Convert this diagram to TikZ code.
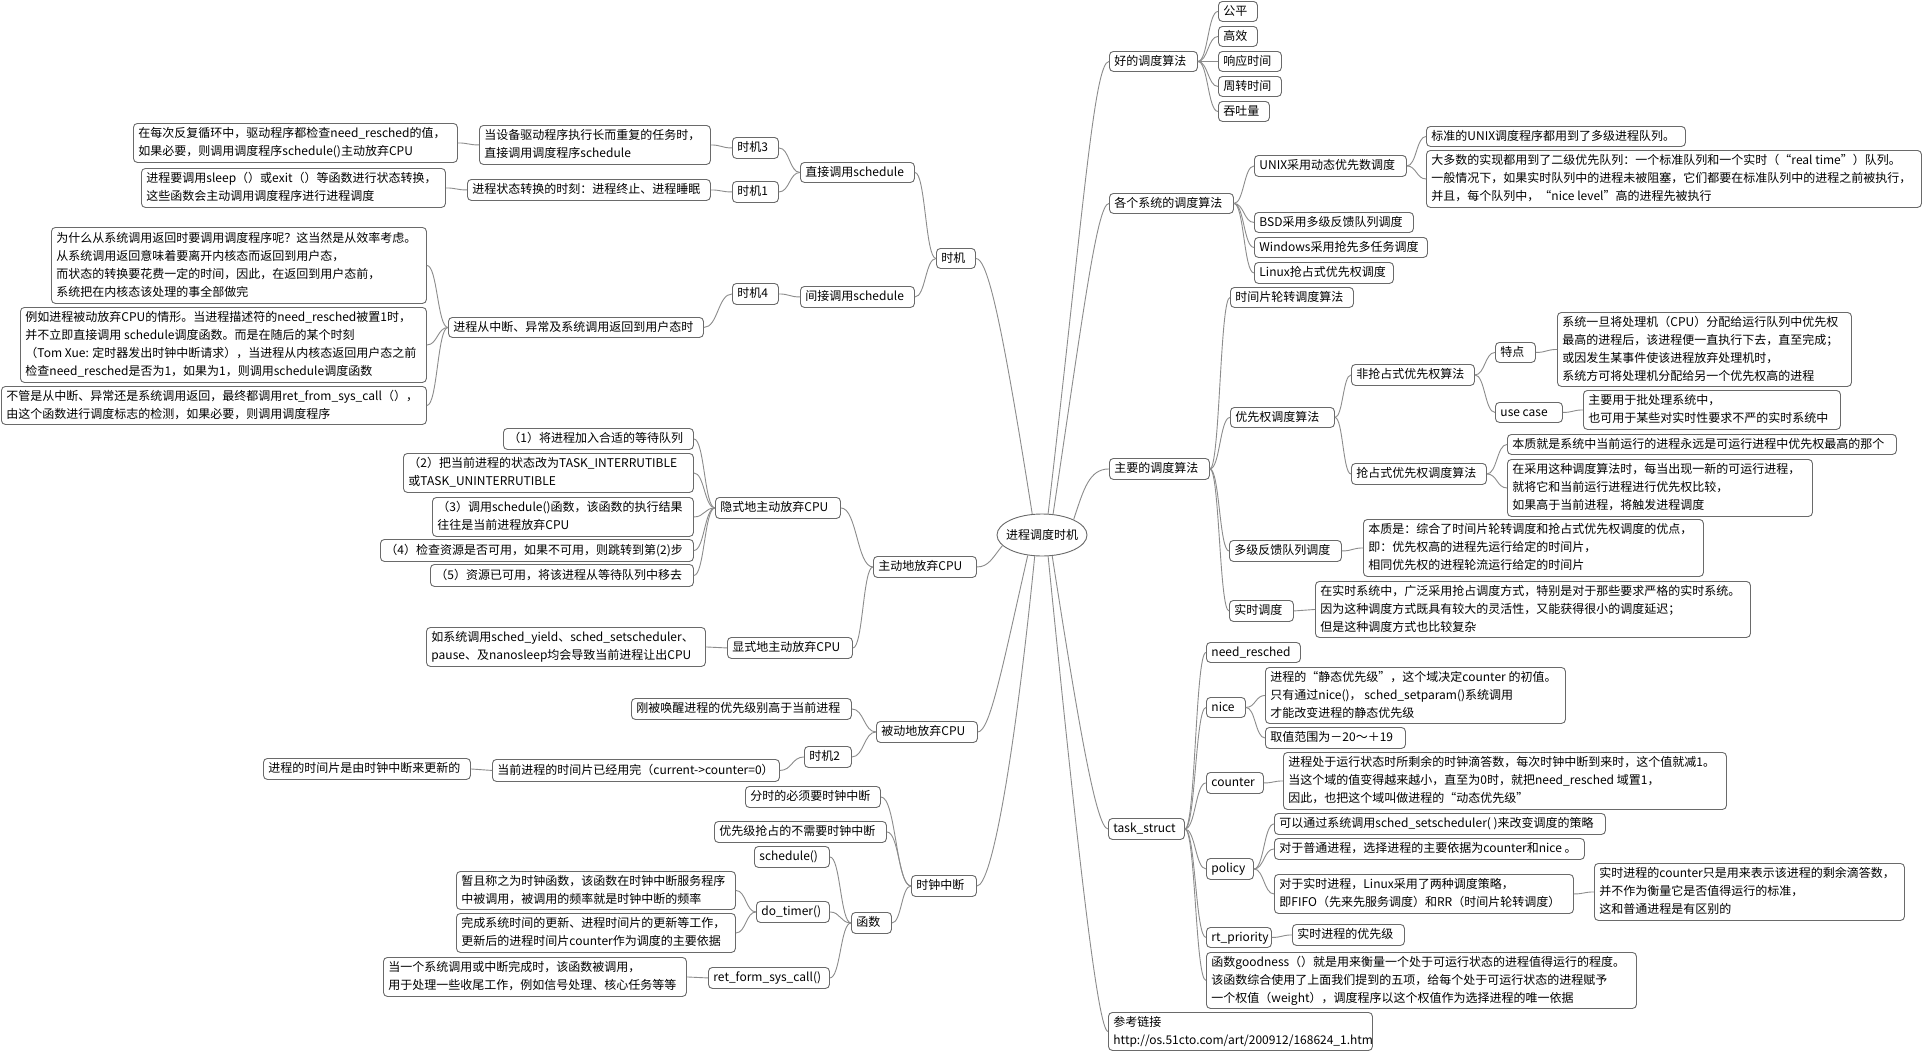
\documentclass[tikz,border=0pt]{standalone}
\usepackage{fontspec}
\setmainfont{Noto Sans CJK SC}
\usetikzlibrary{calc,shapes.geometric}
\definecolor{bordc}{HTML}{6A6A6A}
\definecolor{linec}{HTML}{8C8C8C}
\tikzset{
 box/.style={draw=bordc, line width=0.9pt, rounded corners=4pt, fill=white,
   inner xsep=5pt, inner ysep=1pt, font=\fontsize{12}{18}\selectfont, anchor=north west},
 rootnode/.style={draw=bordc, line width=0.9pt, ellipse, fill=white, inner sep=0pt,
   minimum width=90pt, minimum height=42pt, font=\fontsize{12}{18}\selectfont},
 conn/.style={draw=linec, line width=0.9pt},
 hc/.style={to path={let \p1=(\tikztostart), \p2=(\tikztotarget) in
   .. controls ({0.5*\x1+0.5*\x2},\y1) and ({0.5*\x1+0.5*\x2},\y2) .. (\tikztotarget)}},
}
\newcommand\MBox[6]{\pgfmathsetmacro\MBw{#4-#2-10}\pgfmathsetmacro\MBh{#5-#3}%
 \node[box, minimum width={#4pt-#2pt}, minimum height=\MBh pt] (#1) at (#2,#3)
   {\makebox[\MBw pt][l]{\begin{tabular}{@{}l@{}}#6\end{tabular}}};}
\begin{document}
\begin{tikzpicture}[x=1pt,y=-1pt]
\useasboundingbox (0,0) rectangle (1923,1052);
\fill[white] (0,0) rectangle (1923,1052);

\node[rootnode] (root) at (1042,535) {\makebox[0pt][c]{进程调度时机}};

% ---- left: 时机
\MBox{A}{133}{123}{457}{162}{在每次反复循环中，驱动程序都检查need\_resched的值，\\如果必要，则调用调度程序schedule()主动放弃CPU}
\MBox{B}{479}{125}{710}{164}{当设备驱动程序执行长而重复的任务时，\\直接调用调度程序schedule}
\MBox{t3}{732}{137}{778}{158}{时机3}
\MBox{direct}{800}{162}{914}{182}{直接调用schedule}
\MBox{C}{141}{168}{445}{207}{进程要调用sleep（）或exit（）等函数进行状态转换，\\这些函数会主动调用调度程序进行进程调度}
\MBox{D}{467}{179}{710}{200}{进程状态转换的时刻：进程终止、进程睡眠}
\MBox{t1}{732}{181}{778}{202}{时机1}
\MBox{shiji}{936}{248}{975}{268}{时机}
\MBox{E}{51}{227}{426}{303}{为什么从系统调用返回时要调用调度程序呢？这当然是从效率考虑。\\从系统调用返回意味着要离开内核态而返回到用户态，\\而状态的转换要花费一定的时间，因此，在返回到用户态前，\\系统把在内核态该处理的事全部做完}
\MBox{F}{20}{307}{426}{382}{例如进程被动放弃CPU的情形。当进程描述符的need\_resched被置1时，\\并不立即直接调用 schedule调度函数。而是在随后的某个时刻\\（Tom Xue: 定时器发出时钟中断请求），当进程从内核态返回用户态之前\\检查need\_resched是否为1，如果为1，则调用schedule调度函数}
\MBox{G}{1}{386}{426}{424}{不管是从中断、异常还是系统调用返回，最终都调用ret\_from\_sys\_call（），\\由这个函数进行调度标志的检测，如果必要，则调用调度程序}
\MBox{H}{448}{317}{703}{337}{进程从中断、异常及系统调用返回到用户态时}
\MBox{t4}{732}{283}{778}{304}{时机4}
\MBox{indirect}{800}{286}{914}{307}{间接调用schedule}

% ---- left: 主动地放弃CPU
\MBox{s1}{503}{428}{693}{449}{（1）将进程加入合适的等待队列}
\MBox{s2}{403}{453}{693}{492}{（2）把当前进程的状态改为TASK\_INTERRUTIBLE\\或TASK\_UNINTERRUTIBLE}
\MBox{s3}{432}{497}{693}{536}{（3）调用schedule()函数，该函数的执行结果\\往往是当前进程放弃CPU}
\MBox{s4}{380}{539}{693}{561}{（4）检查资源是否可用，如果不可用，则跳转到第(2)步}
\MBox{s5}{430}{564}{693}{586}{（5）资源已可用，将该进程从等待队列中移去}
\MBox{implicit}{715}{497}{840}{518}{隐式地主动放弃CPU}
\MBox{active}{873}{556}{976}{577}{主动地放弃CPU}
\MBox{X}{426}{627}{705}{666}{如系统调用sched\_yield、sched\_setscheduler、\\pause、及nanosleep均会导致当前进程让出CPU}
\MBox{explicit}{727}{637}{852}{658}{显式地主动放弃CPU}

% ---- left: 被动地放弃CPU
\MBox{woke}{631}{698}{851}{719}{刚被唤醒进程的优先级别高于当前进程}
\MBox{passive}{876}{721}{977}{742}{被动地放弃CPU}
\MBox{t2}{804}{746}{851}{767}{时机2}
\MBox{slice}{492}{759}{779}{781}{当前进程的时间片已经用完（current->counter=0）}
\MBox{upd}{263}{758}{470}{779}{进程的时间片是由时钟中断来更新的}

% ---- left: 时钟中断
\MBox{ts}{745}{786}{880}{807}{分时的必须要时钟中断}
\MBox{pri}{714}{821}{886}{842}{优先级抢占的不需要时钟中断}
\MBox{sched}{754}{846}{829}{867}{schedule()}
\MBox{clock}{911}{875}{976}{896}{时钟中断}
\MBox{func}{851}{912}{891}{933}{函数}
\MBox{dot}{756}{901}{829}{922}{do\_timer()}
\MBox{dt1}{456}{871}{735}{909}{暂且称之为时钟函数，该函数在时钟中断服务程序\\中被调用，被调用的频率就是时钟中断的频率}
\MBox{dt2}{456}{913}{735}{952}{完成系统时间的更新、进程时间片的更新等工作，\\更新后的进程时间片counter作为调度的主要依据}
\MBox{ret}{708}{967}{829}{988}{ret\_form\_sys\_call()}
\MBox{retd}{383}{957}{686}{996}{当一个系统调用或中断完成时，该函数被调用，\\用于处理一些收尾工作，例如信号处理、核心任务等等}

% ---- right: 好的调度算法
\MBox{good}{1109}{51}{1197}{71}{好的调度算法}
\MBox{gp}{1218}{1}{1257}{21}{公平}
\MBox{ge}{1218}{26}{1257}{46}{高效}
\MBox{gr}{1218}{51}{1281}{71}{响应时间}
\MBox{gz}{1218}{76}{1281}{96}{周转时间}
\MBox{gt}{1218}{101}{1269}{121}{吞吐量}

% ---- right: 各个系统的调度算法
\MBox{each}{1109}{193}{1233}{213}{各个系统的调度算法}
\MBox{unix}{1254}{155}{1406}{176}{UNIX采用动态优先数调度}
\MBox{u1}{1426}{126}{1685}{146}{标准的UNIX调度程序都用到了多级进程队列。}
\MBox{u2}{1426}{150}{1921}{207}{大多数的实现都用到了二级优先队列：一个标准队列和一个实时（“real time”）队列。\\一般情况下，如果实时队列中的进程未被阻塞，它们都要在标准队列中的进程之前被执行，\\并且，每个队列中，“nice level”高的进程先被执行}
\MBox{bsd}{1254}{212}{1413}{232}{BSD采用多级反馈队列调度}
\MBox{win}{1254}{237}{1427}{257}{Windows采用抢先多任务调度}
\MBox{linux}{1254}{262}{1393}{283}{Linux抢占式优先权调度}

% ---- right: 主要的调度算法
\MBox{main}{1109}{458}{1209}{479}{主要的调度算法}
\MBox{rr}{1230}{287}{1353}{307}{时间片轮转调度算法}
\MBox{prio}{1230}{407}{1334}{427}{优先权调度算法}
\MBox{np}{1351}{364}{1474}{385}{非抢占式优先权算法}
\MBox{tedian}{1495}{342}{1535}{362}{特点}
\MBox{td}{1557}{312}{1851}{386}{系统一旦将处理机（CPU）分配给运行队列中优先权\\最高的进程后，该进程便一直执行下去，直至完成；\\或因发生某事件使该进程放弃处理机时，\\系统方可将处理机分配给另一个优先权高的进程}
\MBox{uc}{1495}{402}{1562}{422}{use case}
\MBox{ucd}{1583}{390}{1840}{429}{主要用于批处理系统中，\\也可用于某些对实时性要求不严的实时系统中}
\MBox{pp}{1351}{463}{1486}{484}{抢占式优先权调度算法}
\MBox{pp1}{1507}{434}{1896}{454}{本质就是系统中当前运行的进程永远是可运行进程中优先权最高的那个}
\MBox{pp2}{1507}{459}{1812}{516}{在采用这种调度算法时，每当出现一新的可运行进程，\\就将它和当前运行进程进行优先权比较，\\如果高于当前进程，将触发进程调度}
\MBox{mlfq}{1229}{540}{1341}{561}{多级反馈队列调度}
\MBox{mlfqd}{1363}{519}{1703}{576}{本质是：综合了时间片轮转调度和抢占式优先权调度的优点，\\即：优先权高的进程先运行给定的时间片，\\相同优先权的进程轮流运行给定的时间片}
\MBox{rt}{1229}{600}{1293}{621}{实时调度}
\MBox{rtd}{1315}{581}{1750}{637}{在实时系统中，广泛采用抢占调度方式，特别是对于那些要求严格的实时系统。\\因为这种调度方式既具有较大的灵活性，又能获得很小的调度延迟；\\但是这种调度方式也比较复杂}

% ---- right: task_struct
\MBox{task}{1108}{818}{1184}{839}{task\_struct}
\MBox{nr}{1206}{642}{1300}{662}{need\_resched}
\MBox{nice}{1206}{697}{1245}{717}{nice}
\MBox{niced}{1265}{667}{1565}{723}{进程的“静态优先级”，这个域决定counter 的初值。\\只有通过nice()， sched\_setparam()系统调用\\才能改变进程的静态优先级}
\MBox{nicer}{1265}{727}{1405}{748}{取值范围为－20～＋19}
\MBox{counter}{1206}{772}{1263}{793}{counter}
\MBox{counterd}{1283}{752}{1726}{809}{进程处于运行状态时所剩余的时钟滴答数，每次时钟中断到来时，这个值就减1。\\当这个域的值变得越来越小，直至为0时，就把need\_resched 域置1，\\因此，也把这个域叫做进程的“动态优先级”}
\MBox{policy}{1206}{858}{1253}{879}{policy}
\MBox{po1}{1274}{813}{1605}{834}{可以通过系统调用sched\_setscheduler( )来改变调度的策略}
\MBox{po2}{1274}{838}{1584}{859}{对于普通进程，选择进程的主要依据为counter和nice 。}
\MBox{po3}{1274}{874}{1573}{913}{对于实时进程，Linux采用了两种调度策略，\\即FIFO（先来先服务调度）和RR（时间片轮转调度）}
\MBox{po3d}{1594}{863}{1904}{920}{实时进程的counter只是用来表示该进程的剩余滴答数，\\并不作为衡量它是否值得运行的标准，\\这和普通进程是有区别的}
\MBox{rtp}{1206}{927}{1271}{947}{rt\_priority}
\MBox{rtpd}{1292}{924}{1404}{945}{实时进程的优先级}
\MBox{good2}{1206}{952}{1636}{1008}{函数goodness（）就是用来衡量一个处于可运行状态的进程值得运行的程度。\\该函数综合使用了上面我们提到的五项，给每个处于可运行状态的进程赋予\\一个权值（weight），调度程序以这个权值作为选择进程的唯一依据}
\MBox{ref}{1108}{1012}{1372}{1050}{参考链接\\http://os.51cto.com/art/200912/168624\_1.htm}

% ---- root connectors
\draw[conn] (root.115) .. controls +(-30,-190) and +(12,0) .. (shiji.east);
\draw[conn] (root.74) .. controls +(35,-300) and +(-15,0) .. (good.west);
\draw[conn] (root.62) .. controls +(30,-200) and +(-12,0) .. (each.west);
\draw[conn] (root.26) .. controls +(10,-30) and +(-20,0) .. (main.west);
\draw[conn] (root.195) .. controls +(-10,12) and +(12,0) .. (active.east);
\draw[conn] (root.235) .. controls +(-25,110) and +(12,0) .. (passive.east);
\draw[conn] (root.251) .. controls +(-20,200) and +(15,0) .. (clock.east);
\draw[conn] (root.296) .. controls +(25,160) and +(-12,0) .. (task.west);
\draw[conn] (root.286) .. controls +(30,300) and +(-10,0) .. (ref.west);

% ---- left connectors
\draw[conn] (shiji.west) to[hc] (direct.east);
\draw[conn] (shiji.west) to[hc] (indirect.east);
\draw[conn] (direct.west) to[hc] (t3.east);
\draw[conn] (direct.west) to[hc] (t1.east);
\draw[conn] (t3.west) to[hc] (B.east);
\draw[conn] (B.west) to[hc] (A.east);
\draw[conn] (t1.west) to[hc] (D.east);
\draw[conn] (D.west) to[hc] (C.east);
\draw[conn] (indirect.west) to[hc] (t4.east);
\draw[conn] (t4.west) to[hc] (H.east);
\draw[conn] (H.west) to[hc] (E.east);
\draw[conn] (H.west) to[hc] (F.east);
\draw[conn] (H.west) to[hc] (G.east);

\draw[conn] (active.west) to[hc] (implicit.east);
\draw[conn] (active.west) to[hc] (explicit.east);
\foreach \s in {s1,s2,s3,s4,s5} \draw[conn] (implicit.west) to[hc] (\s.east);
\draw[conn] (explicit.west) to[hc] (X.east);

\draw[conn] (passive.west) to[hc] (woke.east);
\draw[conn] (passive.west) to[hc] (t2.east);
\draw[conn] (t2.west) to[hc] (slice.east);
\draw[conn] (slice.west) to[hc] (upd.east);

\draw[conn] (clock.west) to[hc] (ts.east);
\draw[conn] (clock.west) to[hc] (pri.east);
\draw[conn] (clock.west) to[hc] (func.east);
\draw[conn] (func.west) to[hc] (sched.east);
\draw[conn] (func.west) to[hc] (dot.east);
\draw[conn] (func.west) to[hc] (ret.east);
\draw[conn] (dot.west) to[hc] (dt1.east);
\draw[conn] (dot.west) to[hc] (dt2.east);
\draw[conn] (ret.west) to[hc] (retd.east);

% ---- right connectors
\foreach \g in {gp,ge,gr,gz,gt} \draw[conn] (good.east) to[hc] (\g.west);
\foreach \g in {unix,bsd,win,linux} \draw[conn] (each.east) to[hc] (\g.west);
\draw[conn] (unix.east) to[hc] (u1.west);
\draw[conn] (unix.east) to[hc] (u2.west);
\foreach \g in {rr,prio,mlfq,rt} \draw[conn] (main.east) to[hc] (\g.west);
\draw[conn] (prio.east) to[hc] (np.west);
\draw[conn] (prio.east) to[hc] (pp.west);
\draw[conn] (np.east) to[hc] (tedian.west);
\draw[conn] (np.east) to[hc] (uc.west);
\draw[conn] (tedian.east) to[hc] (td.west);
\draw[conn] (uc.east) to[hc] (ucd.west);
\draw[conn] (pp.east) to[hc] (pp1.west);
\draw[conn] (pp.east) to[hc] (pp2.west);
\draw[conn] (mlfq.east) to[hc] (mlfqd.west);
\draw[conn] (rt.east) to[hc] (rtd.west);
\foreach \g in {nr,nice,counter,policy,rtp,good2} \draw[conn] (task.east) to[hc] (\g.west);
\draw[conn] (nice.east) to[hc] (niced.west);
\draw[conn] (nice.east) to[hc] (nicer.west);
\draw[conn] (counter.east) to[hc] (counterd.west);
\foreach \g in {po1,po2,po3} \draw[conn] (policy.east) to[hc] (\g.west);
\draw[conn] (po3.east) to[hc] (po3d.west);
\draw[conn] (rtp.east) to[hc] (rtpd.west);
\end{tikzpicture}
\end{document}
